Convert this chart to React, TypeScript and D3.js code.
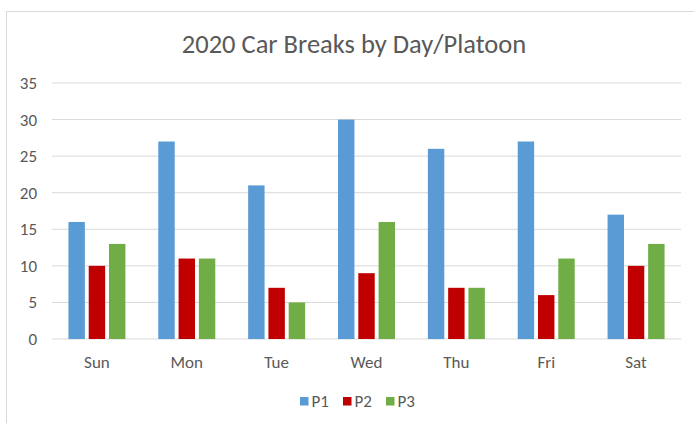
import React from "react";
import * as d3 from "d3";

const days = ["Sun", "Mon", "Tue", "Wed", "Thu", "Fri", "Sat"];
const seriesNames = ["P1", "P2", "P3"];
const p1 = [16, 27, 21, 30, 26, 27, 17];
const p2 = [10, 11, 7, 9, 7, 6, 10];
const p3 = [13, 11, 5, 16, 7, 11, 13];
const yTicks = [0, 5, 10, 15, 20, 25, 30, 35];
const colors = ["#5B9BD5", "#C00000", "#70AD47"];

export default function App() {
  const W = 694, H = 423;
  const left = 52, right = 681, top = 83, bottom = 339;
  const x = d3.scaleBand<string>().domain(days).range([left, right]).padding(0);
  const xs = d3.scaleBand<string>().domain(seriesNames).range([-28.5, 28.5]).paddingInner(0.19);
  const y = d3.scaleLinear().domain([0, 35]).range([bottom, top]);
  const series = [p1, p2, p3];
  const font = "Carlito, Lato, sans-serif";
  const fs = 17;
  return (
    <svg width={W} height={H} style={{ position: "absolute", left: 0, top: 0, background: "#fff" }}>
      <rect x={6.5} y={11.5} width={W} height={H} fill="#fff" stroke="#d9d9d9" />
      <text x={354} y={53} textAnchor="middle" fontFamily={font} fontSize={26.5} fill="#595959">
        2020 Car Breaks by Day/Platoon
      </text>
      {yTicks.map((t) => (
        <g key={t}>
          <line x1={left} x2={right} y1={y(t)} y2={y(t)} stroke="#d9d9d9" strokeWidth={1} />
          <text x={37} y={y(t)} dy="0.35em" textAnchor="end" fontFamily={font} fontSize={fs} fill="#595959">
            {t}
          </text>
        </g>
      ))}
      {days.map((d, i) => (
        <g key={d}>
          {series.map((s, j) => {
            const cx = x(d)! + x.bandwidth() / 2;
            return (
              <rect
                key={j}
                x={cx + xs(seriesNames[j])!}
                y={y(s[i])}
                width={xs.bandwidth()}
                height={y(0) - y(s[i])}
                fill={colors[j]}
              />
            );
          })}
          <text x={x(d)! + x.bandwidth() / 2} y={362} dy="0.35em" textAnchor="middle" fontFamily={font} fontSize={fs} fill="#595959">
            {d}
          </text>
        </g>
      ))}
      {seriesNames.map((n, j) => {
        const lx = 300 + j * 43;
        return (
          <g key={n}>
            <rect x={lx} y={397} width={8.5} height={8.5} fill={colors[j]} />
            <text x={lx + 11.5} y={401.5} dy="0.35em" fontFamily={font} fontSize={fs} fill="#595959">
              {n}
            </text>
          </g>
        );
      })}
    </svg>
  );
}
